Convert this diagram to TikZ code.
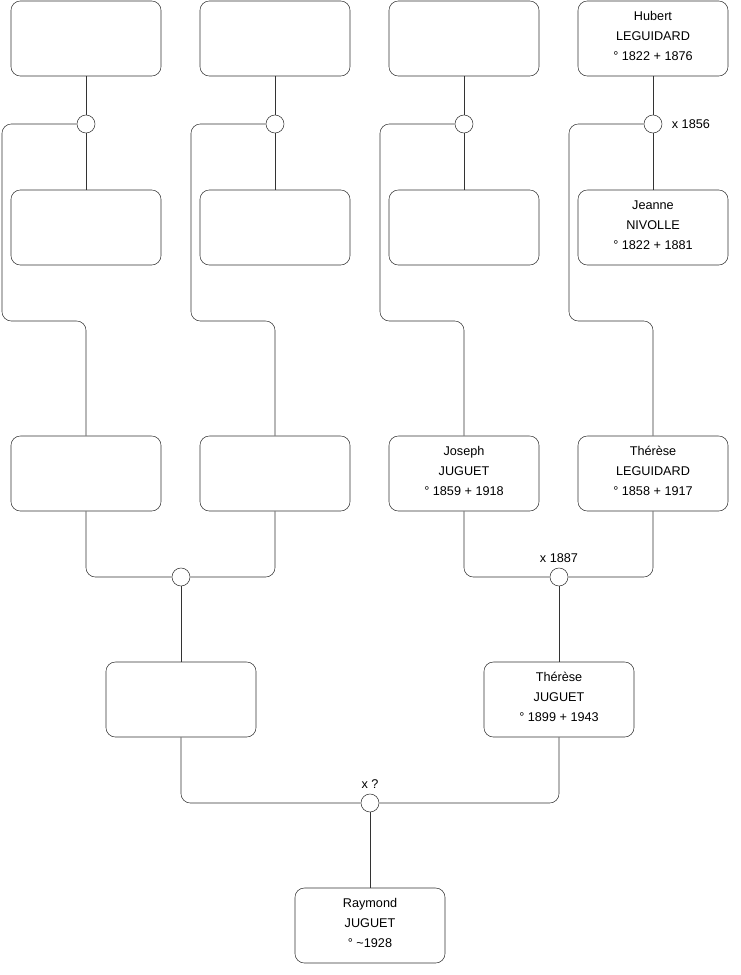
\documentclass[tikz,border=0pt]{standalone}
\usepackage{fontspec}
\setmainfont{Liberation Sans}
\usetikzlibrary{positioning,calc}
\definecolor{TreeLine}{HTML}{333333}
\begin{document}
\begin{tikzpicture}[x=.75pt,y=-.75pt]
\tikzset{person/.style={draw=TreeLine,fill=white,rounded corners=7pt,minimum width=112.5pt,minimum height=56.25pt,align=center,inner sep=0pt,text depth=4pt,font=\fontsize{9.5}{15}\selectfont},union/.style={draw=TreeLine,fill=white,circle,minimum size=13.5pt,inner sep=0pt},link/.style={TreeLine,rounded corners=7pt},note/.style={inner sep=1pt,font=\fontsize{9.5}{11}\selectfont}}
\useasboundingbox (0,0) rectangle (740,975);
% great-grandparents
\node[person] (a1) at (86,38.5) {};
\node[person] (a2) at (275,38.5) {};
\node[person] (a3) at (464,38.5) {};
\node[person] (a4) at (653,38.5) {Hubert\\LEGUIDARD\\° 1822 + 1876};
\node[person] (b1) at (86,227.5) {};
\node[person] (b2) at (275,227.5) {};
\node[person] (b3) at (464,227.5) {};
\node[person] (b4) at (653,227.5) {Jeanne\\NIVOLLE\\° 1822 + 1881};
\node[union] (m1) at (86,124) {};
\node[union] (m2) at (275,124) {};
\node[union] (m3) at (464,124) {};
\node[union] (m4) at (653,124) {};
\node[note,right=6pt of m4] (l4) {x 1856};
% grandparents
\node[person] (c1) at (86,473.5) {};
\node[person] (c2) at (275,473.5) {};
\node[person] (c3) at (464,473.5) {Joseph\\JUGUET\\° 1859 + 1918};
\node[person] (c4) at (653,473.5) {Thérèse\\LEGUIDARD\\° 1858 + 1917};
\node[union] (p1) at (181,577) {};
\node[union] (p2) at (559,577) {};
\node[note,above=3pt of p2] (l2) {x 1887};
% parents
\node[person] (d1) at (181,699.5) {};
\node[person] (d2) at (559,699.5) {Thérèse\\JUGUET\\° 1899 + 1943};
\node[union] (r) at (370,803) {};
\node[note,above=3pt of r] (lr) {x ?};
\node[person] (e) at (370,925.5) {Raymond\\JUGUET\\° \textasciitilde1928};
\draw[link](a1)--(m1)--(b1);\draw[link](a2)--(m2)--(b2);\draw[link](a3)--(m3)--(b3);\draw[link](a4)--(m4)--(b4);
\draw[link](m1.west)-|($(m1)+(-84,197)$)-|(c1.north);
\draw[link](m2.west)-|($(m2)+(-84,197)$)-|(c2.north);
\draw[link](m3.west)-|($(m3)+(-84,197)$)-|(c3.north);
\draw[link](m4.west)-|($(m4)+(-84,197)$)-|(c4.north);
\draw[link](c1.south)|-(p1.west);\draw[link](c2.south)|-(p1.east);\draw[link](p1)--(d1);
\draw[link](c3.south)|-(p2.west);\draw[link](c4.south)|-(p2.east);\draw[link](p2)--(d2);
\draw[link](d1.south)|-(r.west);\draw[link](d2.south)|-(r.east);\draw[link](r)--(e);
\end{tikzpicture}
\end{document}
